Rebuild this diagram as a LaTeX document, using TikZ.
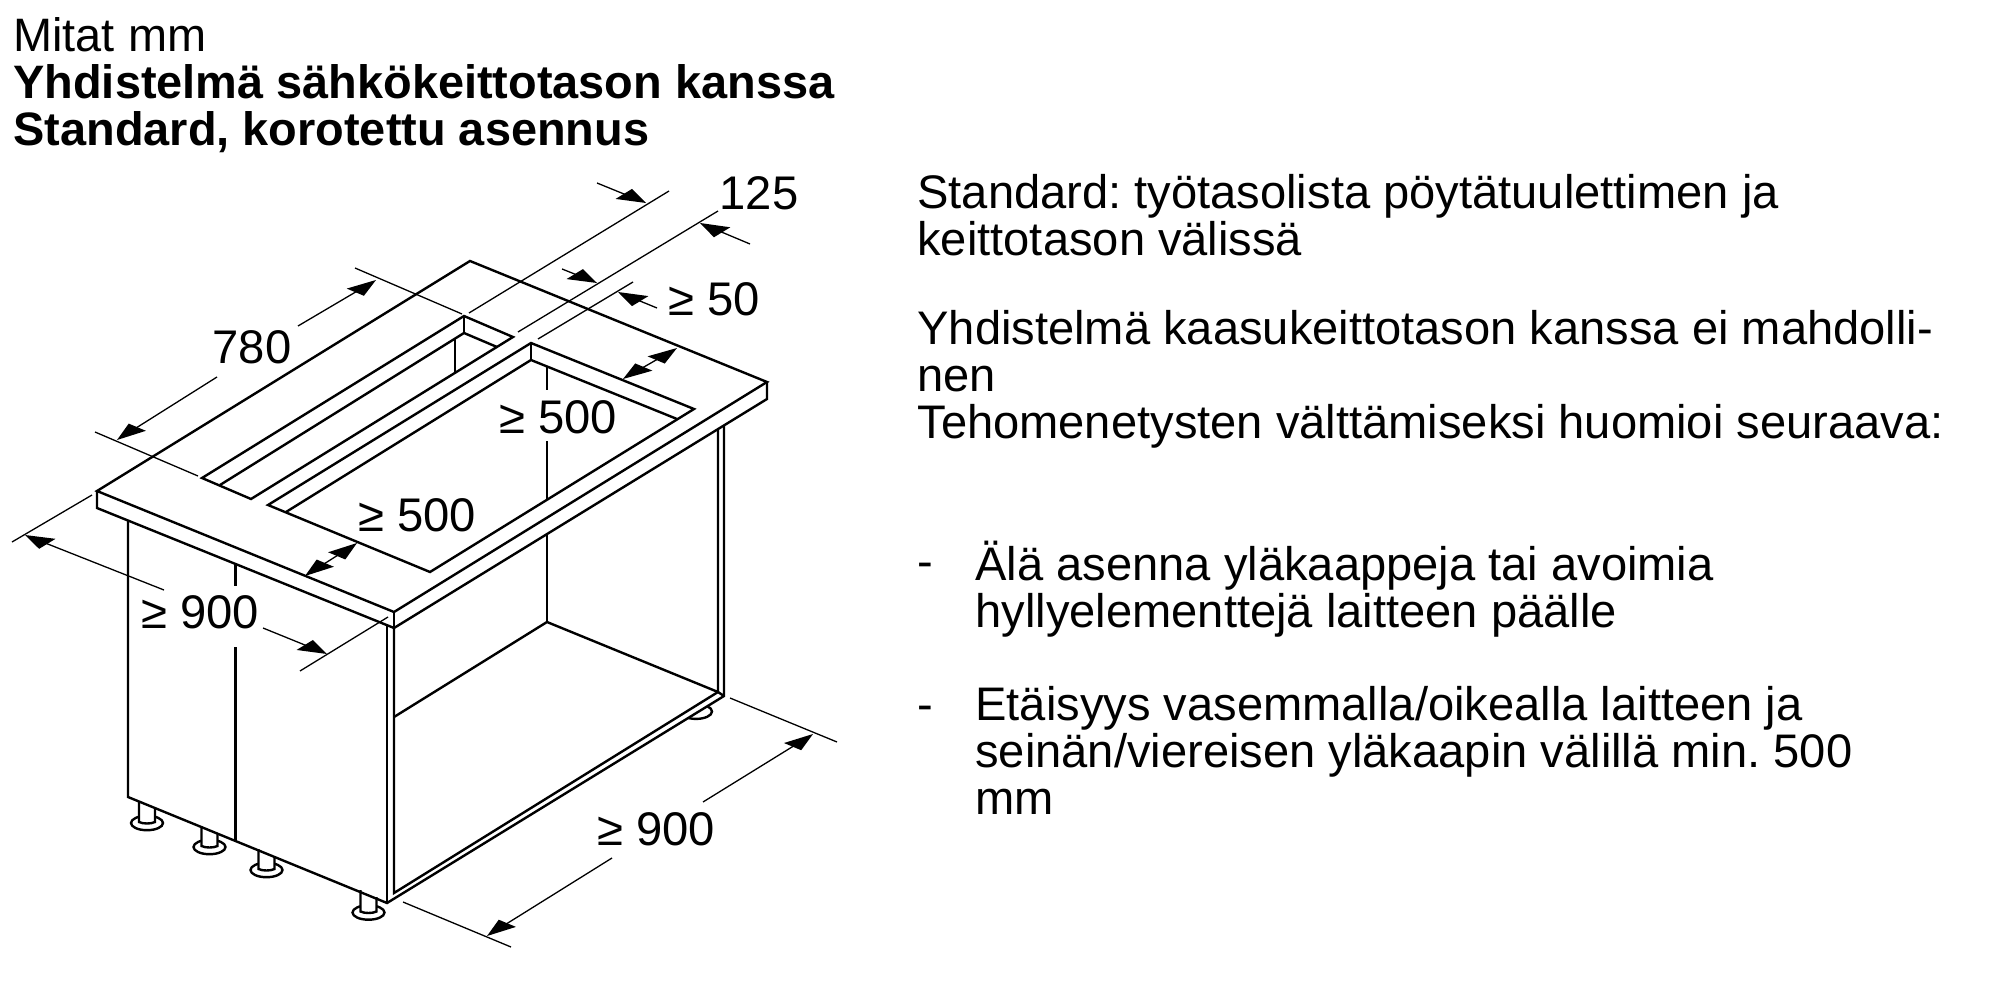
\documentclass[tikz,border=0pt]{standalone}
\usepackage{fontspec}
\setmainfont{Liberation Sans}
\usetikzlibrary{calc}
\newcommand\ahead[3]{% tip, tail, half-width vector of the head
  \fill let \p1=($(#1)!12pt!(#2)$) in
    (#1) -- ($(\p1)+(#3)$) -- ($(\p1)-(#3)$) -- cycle;}
\newcommand\fl{\rule{0pt}{18pt}}
\tikzset{
  heavy/.style={line width=1.2pt,line join=miter},
  thin dim/.style={line width=0.65pt},
  lbl/.style={font=\fontsize{23.6pt}{23.6pt}\selectfont,inner sep=0pt},
  para/.style={font=\fontsize{23.55pt}{23.4pt}\selectfont\frenchspacing,inner sep=0pt,anchor=north west,align=left},
  base foot/.style={line width=1.2pt,fill=white}
}
\newcommand\foot[3]{% centre x, y of ellipse, top y of stem (left), stem half width = 8
  \draw[base foot] (#1,#2) ellipse [x radius=16,y radius=7.2];
  \draw[base foot] (#1-8,#3) -- (#1-8,#2-1) .. controls (#1-4,#2+1) and (#1+4,#2+1) .. (#1+8,#2-1) -- (#1+8,#3+7);
}
\begin{document}
\begin{tikzpicture}[x=0.5pt,y=-0.5pt]
\useasboundingbox (0,0) rectangle (2000,1000);
% ---- coordinates of the worktop
\coordinate (A) at (470,261); \coordinate (B) at (767,382);
\coordinate (C) at (394,612); \coordinate (D) at (97,491);
\coordinate (Bd) at (767,399); \coordinate (Cd) at (394,628); \coordinate (Dd) at (97,508);
% feet
\draw[base foot] (696,711.5) ellipse [x radius=16,y radius=7.4];
\fill[white] (387,903) -- (724,696) -- (724,640) -- (560,640) -- (387,800) -- cycle;
\foot{147}{823}{801}
\foot{209.5}{847}{826}
\foot{266.5}{870}{849}
\foot{368.5}{912.5}{890}
% cabinet
\draw[heavy] (128,520.5) -- (128,797) -- (387,903) -- (724,696) -- (724,425);
\draw[heavy] (387,625) -- (387,903);
\draw[heavy] (394,628) -- (394,893) -- (718,692) -- (718,429);
\draw[heavy] (718,692) -- (724,696);
\draw[heavy] (235.5,565) -- (235.5,586);
\draw[heavy] (235.5,647) -- (235.5,840);
\draw[heavy] (394,717) -- (547,622) -- (718,692);
\draw[heavy] (547,535) -- (547,622);
\draw[heavy] (547,441) -- (547,499);
\draw[heavy] (547,366.5) -- (547,390);
% worktop
\draw[heavy] (A) -- (B) -- (C) -- (D) -- cycle;
\draw[heavy] (B) -- (Bd) -- (Cd) -- (Dd) -- (D);
\draw[heavy] (C) -- (Cd);
% slot
\draw[heavy] (464,316) -- (513,337) -- (251,499) -- (202,478) -- cycle;
\draw[heavy] (464,316) -- (464,333);
\draw[heavy] (220,485) -- (464,333) -- (497,347);
\draw[heavy] (455,338) -- (455,372);
% cut-out
\draw[heavy] (531,343) -- (694,409) -- (430,572) -- (268,505) -- cycle;
\draw[heavy] (531,343) -- (531,360);
\draw[heavy] (286,512) -- (531,360) -- (677,419);
% extension lines
\draw[thin dim] (355,268) -- (462,314);
\draw[thin dim] (95,432) -- (198,476);
\draw[thin dim] (669,191) -- (469,313);
\draw[thin dim] (718,211) -- (518,332);
\draw[thin dim] (633,282) -- (538,339);
\draw[thin dim] (92,495) -- (12,542);
\draw[thin dim] (388,617) -- (300,671);
\draw[thin dim] (730,698) -- (837,742);
\draw[thin dim] (403,902) -- (511,947);
% dimension arrows
\coordinate (t780a) at (376,280); \coordinate (e780a) at (298,326);
\coordinate (t780b) at (117,440); \coordinate (e780b) at (217,377);
\coordinate (t125a) at (646,203); \coordinate (e125a) at (597,183);
\coordinate (t125b) at (700,223); \coordinate (e125b) at (750,244);
\coordinate (t50a) at (597,283); \coordinate (e50a) at (562,269);
\coordinate (t50b) at (618,292); \coordinate (e50b) at (657,308);
\coordinate (tr1) at (677,348); \coordinate (tr2) at (623,379);
\coordinate (tl1) at (357,543); \coordinate (tl2) at (305,576);
\coordinate (t900a) at (25,535); \coordinate (e900a) at (164,590);
\coordinate (t900b) at (327,654); \coordinate (e900b) at (263,628);
\coordinate (t900c) at (813,734); \coordinate (e900c) at (703,802);
\coordinate (t900d) at (487,936); \coordinate (e900d) at (612,858);
\foreach \a/\b in {t780a/e780a,t780b/e780b,t125a/e125a,t125b/e125b,t50a/e50a,t50b/e50b,t900a/e900a,t900b/e900b,t900c/e900c,t900d/e900d}
  \draw[thin dim,shorten <=4pt] (\a) -- (\b);
\foreach \a/\b in {tr1/tr2,tl1/tl2}
  \draw[thin dim,shorten <=4pt,shorten >=4pt] (\a) -- (\b);
% heads along the up-right direction: base parallel to down-right lines
\foreach \a/\b in {t780a/e780a,t780b/e780b,tr1/tr2,tr2/tr1,tl1/tl2,tl2/tl1,t900c/e900c,t900d/e900d}
  {\ahead{\a}{\b}{8.6,3.6}}
\foreach \a/\b in {t125a/e125a,t125b/e125b,t50a/e50a,t50b/e50b,t900a/e900a,t900b/e900b}
  {\ahead{\a}{\b}{8.2,-5}}
% dimension labels
\node[lbl] (l780) at (252,347) {780};
\node[lbl] (l125) at (759,193) {125};
\node[lbl] (l50) at (714,299) {≥ 50};
\node[lbl] (l500a) at (558,417) {≥ 500};
\node[lbl] (l500b) at (417,515) {≥ 500};
\node[lbl] (l900a) at (200,612) {≥ 900};
\node[lbl] (l900b) at (656,829) {≥ 900};
% texts
\node[para,font=\fontsize{23.45pt}{23.4pt}\selectfont] (head) at (13,15.5) {\fl Mitat mm\\\textbf{Yhdistelmä sähkökeittotason kanssa}\\\textbf{Standard, korotettu asennus}};
\node[para] (p1) at (917,172.5) {\fl Standard: työtasolista pöytätuulettimen ja\\keittotason välissä};
\node[para] (p2) at (917,308.5) {\fl Yhdistelmä kaasukeittotason kanssa ei mahdolli-\\nen\\Tehomenetysten välttämiseksi huomioi seuraava:};
\node[para] (d1) at (917,541) {\fl -};
\node[para] (p3) at (975,541) {\fl Älä asenna yläkaappeja tai avoimia\\hyllyelementtejä laitteen päälle};
\node[para] (d2) at (917,684.5) {\fl -};
\node[para] (p4) at (975,684.5) {\fl Etäisyys vasemmalla/oikealla laitteen ja\\seinän/viereisen yläkaapin välillä min. 500\\mm};
\end{tikzpicture}
\end{document}
